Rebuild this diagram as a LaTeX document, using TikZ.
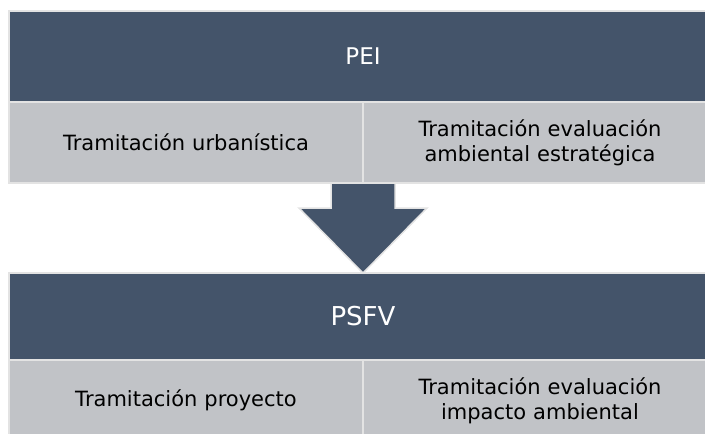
\documentclass[tikz,border=0pt]{standalone}
\usepackage{fontspec}
\setmainfont{DejaVu Sans}
\usetikzlibrary{positioning, calc}
\definecolor{azul}{HTML}{44546A}
\definecolor{gris}{HTML}{C1C3C7}
\definecolor{borde}{HTML}{E3E3E3}
\tikzstyle{titulo} = [rectangle, fill=azul, draw=borde, line width=1.5pt, minimum width=708pt, minimum height=91pt, text=white, inner sep=0pt, outer sep=0pt]
\tikzstyle{celda} = [rectangle, fill=gris, draw=borde, line width=1.5pt, minimum width=354pt, minimum height=81pt, text width=330pt, align=center, inner sep=0pt, outer sep=0pt, font=\fontsize{21}{25}\selectfont]
\tikzstyle{flecha} = [fill=azul, draw=borde, line width=1.5pt, line join=miter]

\begin{document}
\begin{tikzpicture}[x=1pt, y=-1pt]
        \useasboundingbox (0,0) rectangle (705,434);
        \clip (0,0) rectangle (705,434);

        \node (pei) [titulo, font=\fontsize{23}{27}\selectfont] at (363,56.5) {PEI};
        \node (urban) [celda, below right=0pt of pei.south west] {Tramitación urbanística};
        \node (eae) [celda, right=0pt of urban] {Tramitación evaluación\\ambiental estratégica};

        \node (psfv) [titulo, minimum height=87pt, font=\fontsize{26}{30}\selectfont, below=90pt of urban.south east] {PSFV};
        \node (proyecto) [celda, below right=0pt of psfv.south west] {Tramitación proyecto};
        \node (eia) [celda, right=0pt of proyecto] {Tramitación evaluación\\impacto ambiental};

        \draw [flecha] ($(urban.south east)+(-32,0)$) -- ++(0,25) -- ++(-32,0) -- (psfv.north)
            -- ($(urban.south east)+(64,25)$) -- ++(-32,0) -- ($(urban.south east)+(32,0)$) -- cycle;
    \end{tikzpicture}
\end{document}
